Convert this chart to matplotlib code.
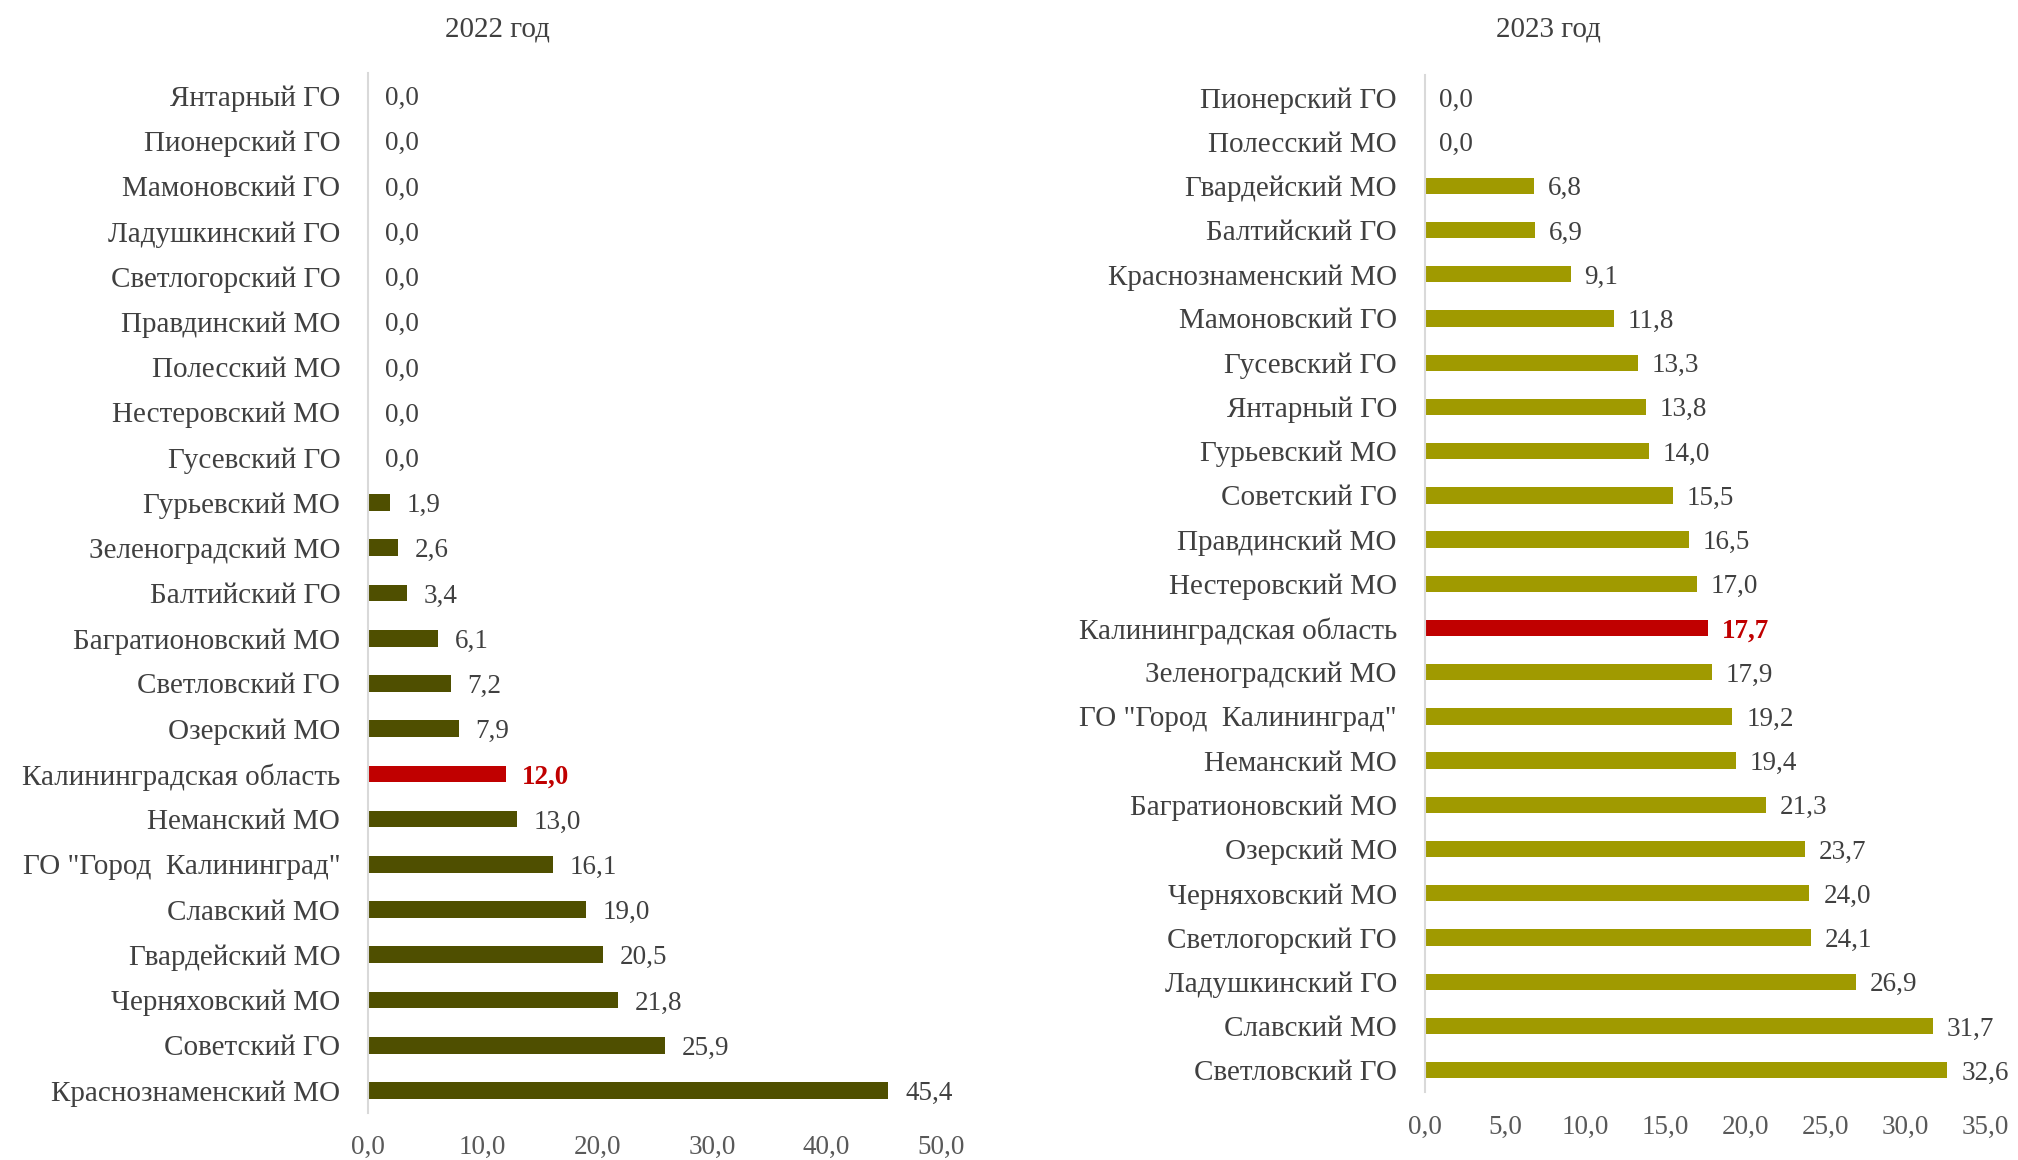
import matplotlib.pyplot as plt
import numpy as np

plt.rcParams['font.family'] = ['Liberation Serif', 'DejaVu Serif']

# 2022 data (top to bottom as shown)
names_2022 = ['Янтарный ГО', 'Пионерский ГО', 'Мамоновский ГО', 'Ладушкинский ГО',
              'Светлогорский ГО', 'Правдинский МО', 'Полесский МО', 'Нестеровский МО',
              'Гусевский ГО', 'Гурьевский МО', 'Зеленоградский МО', 'Балтийский ГО',
              'Багратионовский МО', 'Светловский ГО', 'Озерский МО',
              'Калининградская область', 'Неманский МО', 'ГО "Город  Калининград"',
              'Славский МО', 'Гвардейский МО', 'Черняховский МО', 'Советский ГО',
              'Краснознаменский МО']
values_2022 = [0.0, 0.0, 0.0, 0.0, 0.0, 0.0, 0.0, 0.0, 0.0, 1.9, 2.6, 3.4, 6.1, 7.2, 7.9,
               12.0, 13.0, 16.1, 19.0, 20.5, 21.8, 25.9, 45.4]

# 2023 data
names_2023 = ['Пионерский ГО', 'Полесский МО', 'Гвардейский МО', 'Балтийский ГО',
              'Краснознаменский МО', 'Мамоновский ГО', 'Гусевский ГО', 'Янтарный ГО',
              'Гурьевский МО', 'Советский ГО', 'Правдинский МО', 'Нестеровский МО',
              'Калининградская область', 'Зеленоградский МО', 'ГО "Город  Калининград"',
              'Неманский МО', 'Багратионовский МО', 'Озерский МО', 'Черняховский МО',
              'Светлогорский ГО', 'Ладушкинский ГО', 'Славский МО', 'Светловский ГО']
values_2023 = [0.0, 0.0, 6.8, 6.9, 9.1, 11.8, 13.3, 13.8, 14.0, 15.5, 16.5, 17.0, 17.7,
               17.9, 19.2, 19.4, 21.3, 23.7, 24.0, 24.1, 26.9, 31.7, 32.6]

highlight = 'Калининградская область'
red = '#C00000'
txt = '#404040'
fs_cat = 21
fs_val = 19.5

fig = plt.figure(figsize=(20.18, 11.6), dpi=100)


def draw(ax, names, vals, color, xmax, step, pad):
    n = len(names)
    y = np.arange(n)[::-1]
    cols = [red if nm == highlight else color for nm in names]
    bars = ax.barh(y, vals, height=0.37, color=cols)
    labels = [f'{v:.1f}'.replace('.', ',') for v in vals]
    bl = ax.bar_label(bars, labels=labels, padding=pad, fontsize=fs_val, color=txt)
    for t, nm in zip(bl, names):
        t.set_verticalalignment('center_baseline')
        if nm == highlight:
            t.set_color(red)
            t.set_fontweight('bold')
    ax.set_yticks(y)
    ax.set_yticklabels(names, fontsize=fs_cat, color=txt)
    ax.set_ylim(-0.5, n - 0.5)
    ax.set_xlim(0, xmax)
    ticks = np.arange(0, xmax + 0.01, step)
    ax.set_xticks(ticks)
    ax.set_xticklabels([f'{t:.1f}'.replace('.', ',') for t in ticks], fontsize=fs_val, color='#595959')
    ax.tick_params(axis='y', length=0, pad=20)
    ax.tick_params(axis='x', length=0, pad=16)
    for s in ['top', 'right', 'bottom']:
        ax.spines[s].set_visible(False)
    ax.spines['left'].set_color('#D9D9D9')
    ax.spines['left'].set_linewidth(1.5)


ax1 = fig.add_axes([0.1824, 0.0405, 0.284, 0.8965])
draw(ax1, names_2022, values_2022, '#4F4F00', 50, 10, 12)

ax2 = fig.add_axes([0.706, 0.0584, 0.278, 0.8767])
draw(ax2, names_2023, values_2023, '#A09A00', 35, 5, 10)

fig.text(497 / 2018, 1 - 29 / 1160, '2022 год', ha='center', va='center', fontsize=fs_cat, color=txt)
fig.text(1548 / 2018, 1 - 29 / 1160, '2023 год', ha='center', va='center', fontsize=fs_cat, color=txt)

fig.savefig('out.png', dpi=100)
